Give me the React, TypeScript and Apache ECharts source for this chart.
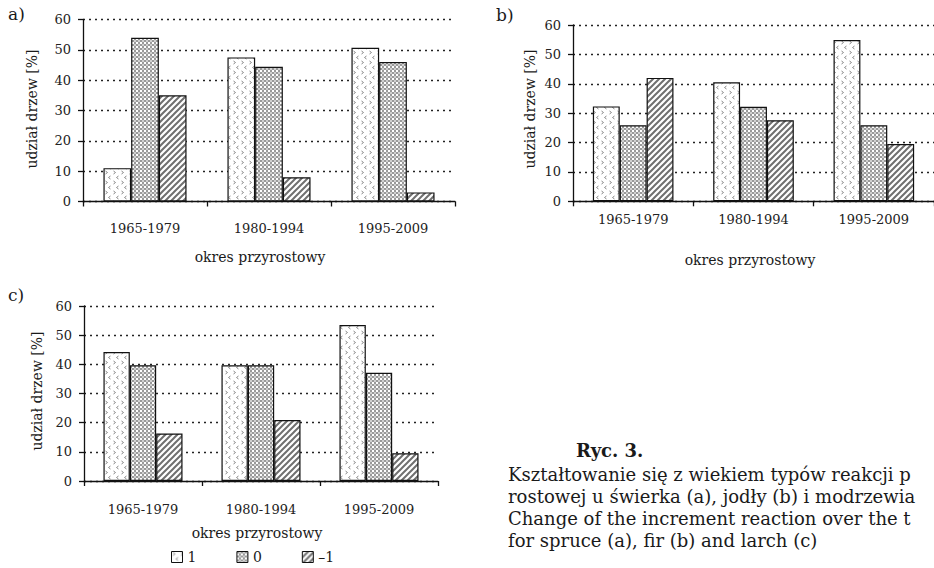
import React, { useEffect, useRef } from 'react';
import * as echarts from 'echarts';

const categories = ['1965-1979', '1980-1994', '1995-2009'];
const seriesNames = ['1', '0', '–1'];

// panel a (spruce)
const spruceType1 = [11, 47.5, 50.7];
const spruceType0 = [54, 44.4, 46];
const spruceTypeM1 = [35, 8, 3];
// panel b (fir)
const firType1 = [32.3, 40.5, 54.9];
const firType0 = [25.9, 32.2, 25.9];
const firTypeM1 = [42, 27.6, 19.5];
// panel c (larch)
const larchType1 = [44.2, 39.7, 53.5];
const larchType0 = [39.7, 39.7, 37.1];
const larchTypeM1 = [16.3, 20.9, 9.5];

const yMin = 0;
const yMax = 60;
const yStep = 10;

const panelLetters = ['a)', 'b)', 'c)'];
const xAxisTitle = 'okres przyrostowy';
const yAxisTitle = 'udział drzew [%]';
const captionHead = 'Ryc. 3.';
// caption as it is visible in the picture (cut by the right edge)
const captionLines = [
  'Kształtowanie się z wiekiem typów reakcji p',
  'rostowej u świerka (a), jodły (b) i modrzewia',
  'Change of the increment reaction over the t',
  'for spruce (a), fir (b) and larch (c)',
];

const FONT = '"DejaVu Serif", "Liberation Serif", serif';

function makeTile(w: number, h: number, draw: (ctx: CanvasRenderingContext2D) => void) {
  const c = document.createElement('canvas');
  c.width = w;
  c.height = h;
  const ctx = c.getContext('2d') as CanvasRenderingContext2D;
  ctx.fillStyle = '#ffffff';
  ctx.fillRect(0, 0, w, h);
  draw(ctx);
  return { image: c.toDataURL(), repeat: 'repeat', imageWidth: w, imageHeight: h } as any;
}

export default function App() {
  const ref = useRef<HTMLDivElement>(null);

  useEffect(() => {
    if (!ref.current) return;
    const chart = echarts.init(ref.current, undefined, { renderer: 'svg' });

    const patChevron = makeTile(8, 10, (ctx) => {
      ctx.strokeStyle = '#8a8a8a';
      ctx.lineWidth = 1;
      ctx.beginPath();
      ctx.moveTo(1.5, 1);
      ctx.lineTo(3.5, 2.5);
      ctx.lineTo(1.5, 4);
      ctx.stroke();
      ctx.beginPath();
      ctx.moveTo(6.5, 6);
      ctx.lineTo(4.5, 7.5);
      ctx.lineTo(6.5, 9);
      ctx.stroke();
    });
    const patDots = makeTile(4, 4, (ctx) => {
      ctx.fillStyle = '#9a9a9a';
      ctx.fillRect(0, 0, 2, 2);
      ctx.fillRect(2, 2, 2, 2);
      ctx.fillStyle = '#d0d0d0';
      ctx.fillRect(2, 0, 2, 2);
    });
    const patHatch = makeTile(6, 6, (ctx) => {
      ctx.strokeStyle = '#707070';
      ctx.lineWidth = 2;
      ctx.beginPath();
      ctx.moveTo(-1, 7);
      ctx.lineTo(7, -1);
      ctx.moveTo(-1, 1);
      ctx.lineTo(1, -1);
      ctx.moveTo(5, 7);
      ctx.lineTo(7, 5);
      ctx.stroke();
    });
    const patterns = [patChevron, patDots, patHatch];

    const panels = [
      [spruceType1, spruceType0, spruceTypeM1],
      [firType1, firType0, firTypeM1],
      [larchType1, larchType0, larchTypeM1],
    ];

    const grids = [
      { left: 83, top: 19.5, width: 372, height: 182 },
      { left: 573, top: 25, width: 363, height: 176.3 },
      { left: 84, top: 306, width: 354, height: 175 },
    ];
    const xLabelMargins = [20, 11.5, 22];

    const axisLineStyle = { color: '#111', width: 1.3 };

    const xAxes = grids.map((_, i) => ({
      type: 'category',
      gridIndex: i,
      data: categories,
      axisLine: { show: true, lineStyle: axisLineStyle },
      axisTick: { show: true, length: 5, lineStyle: axisLineStyle },
      axisLabel: { margin: xLabelMargins[i], fontFamily: FONT, fontSize: 13, color: '#222' },
    }));

    const yAxes = grids.map((_, i) => ({
      type: 'value',
      gridIndex: i,
      min: yMin,
      max: yMax,
      interval: yStep,
      axisLine: { show: true, lineStyle: axisLineStyle },
      axisTick: { show: true, length: 5, lineStyle: axisLineStyle },
      axisLabel: { margin: 12, fontFamily: FONT, fontSize: 13, color: '#222' },
      splitLine: { show: true, lineStyle: { type: [2, 4], color: '#222', width: 1.3 } },
    }));

    const series: any[] = [];
    panels.forEach((panel, p) => {
      panel.forEach((values, s) => {
        series.push({
          type: 'bar',
          name: seriesNames[s],
          xAxisIndex: p,
          yAxisIndex: p,
          data: values,
          barGap: '0%',
          barCategoryGap: '33%',
          itemStyle: { color: patterns[s], borderColor: '#111', borderWidth: 1.2 },
        });
      });
    });

    const textColor = '#1a1a1a';
    const xTitlePos = [
      [260, 257],
      [750, 260],
      [257, 533],
    ];
    const yTitlePos = [
      [32, 109],
      [530, 109],
      [37, 391],
    ];
    const letterPos = [
      [8, 14],
      [496, 15],
      [8, 295],
    ];

    const graphics: any[] = [];
    for (let i = 0; i < 3; i++) {
      graphics.push({
        type: 'text',
        x: xTitlePos[i][0],
        y: xTitlePos[i][1],
        style: { text: xAxisTitle, font: `14px ${FONT}`, fill: textColor, align: 'center', verticalAlign: 'middle' },
      });
      graphics.push({
        type: 'text',
        x: yTitlePos[i][0],
        y: yTitlePos[i][1],
        rotation: Math.PI / 2,
        style: { text: yAxisTitle, font: `14px ${FONT}`, fill: textColor, align: 'center', verticalAlign: 'middle' },
      });
      graphics.push({
        type: 'text',
        x: letterPos[i][0],
        y: letterPos[i][1],
        style: { text: panelLetters[i], font: `17px ${FONT}`, fill: textColor, align: 'left', verticalAlign: 'middle' },
      });
    }
    graphics.push({
      type: 'text',
      x: 576,
      y: 450,
      style: { text: captionHead, font: `bold 18px ${FONT}`, fill: textColor, align: 'left', verticalAlign: 'middle' },
    });
    const captionY = [474, 496, 518, 540];
    captionLines.forEach((line, i) => {
      graphics.push({
        type: 'text',
        x: 508,
        y: captionY[i],
        style: { text: line, font: `18px ${FONT}`, fill: textColor, align: 'left', verticalAlign: 'middle' },
      });
    });

    chart.setOption({
      animation: false,
      backgroundColor: '#ffffff',
      grid: grids,
      xAxis: xAxes,
      yAxis: yAxes,
      series,
      legend: {
        data: seriesNames,
        left: 166,
        top: 545,
        itemWidth: 11,
        itemHeight: 11,
        itemGap: 40,
        icon: 'rect',
        selectedMode: false,
        textStyle: { fontFamily: FONT, fontSize: 14, color: textColor },
        itemStyle: { borderColor: '#111', borderWidth: 1 },
      },
      graphic: graphics,
    });

    return () => {
      chart.dispose();
    };
  }, []);

  return (
    <div
      ref={ref}
      style={{ position: 'fixed', left: 0, top: 0, width: 934, height: 568, background: '#fff' }}
    />
  );
}
